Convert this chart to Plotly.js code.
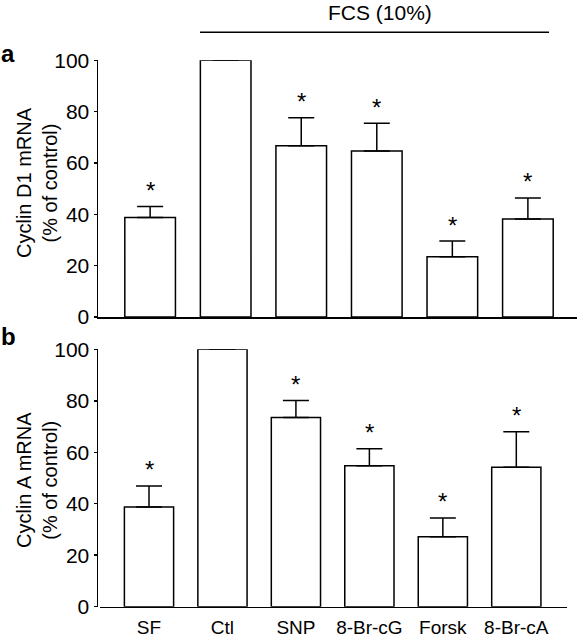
<!DOCTYPE html>
<html>
<head>
<meta charset="utf-8">
<script src="https://cdn.plot.ly/plotly-3.0.1.min.js"></script>
<style>html,body{margin:0;padding:0;background:#fff;}#chart{width:579px;height:640px;}</style>
</head>
<body>
<div id="chart"></div>
<script>
var categories = ['SF', 'Ctl', 'SNP', '8-Br-cG', 'Forsk', '8-Br-cA'];
var cyclinD1 = [38.8, 100, 66.7, 64.7, 23.5, 38.2];
var cyclinD1Err = [4.2, null, 10.9, 10.8, 6.1, 8.2];
var cyclinA = [38.7, 100, 73.5, 54.8, 27.2, 54.2];
var cyclinAErr = [8.2, null, 6.6, 6.6, 7.3, 13.8];
var significant = [true, false, true, true, true, true];
var yTicks = [0, 20, 40, 60, 80, 100];

var FONT = 'Liberation Sans, Arial, sans-serif';
var W = 579, H = 640;

function barTrace(vals, errs, xa, ya) {
  return {
    type: 'bar', x: categories, y: vals, xaxis: xa, yaxis: ya,
    marker: {color: '#ffffff', line: {color: '#000000', width: 1.5}},
    error_y: {type: 'data', symmetric: false, array: errs,
              arrayminus: errs.map(function(){return 0;}),
              color: '#000000', thickness: 1.5, width: 13},
    hoverinfo: 'none'
  };
}

var data = [
  barTrace(cyclinD1, cyclinD1Err, 'x', 'y'),
  barTrace(cyclinA, cyclinAErr, 'x2', 'y2')
];

var annotations = [];
function addStars(vals, errs, xref, yref) {
  for (var i = 0; i < categories.length; i++) {
    if (!significant[i]) continue;
    annotations.push({
      x: categories[i], y: vals[i] + (errs[i] || 0), xref: xref, yref: yref,
      text: '*', showarrow: false, yanchor: 'middle', yshift: 16,
      font: {family: FONT, size: 24, color: '#000'}
    });
  }
}
addStars(cyclinD1, cyclinD1Err, 'x', 'y');
addStars(cyclinA, cyclinAErr, 'x2', 'y2');

annotations.push({text: 'FCS (10%)', xref: 'x', yref: 'paper', x: 3.04, y: (H - 13) / H,
  showarrow: false, yanchor: 'middle', xanchor: 'center', font: {family: FONT, size: 21, color: '#000'}});
annotations.push({text: '<b>a</b>', xref: 'paper', yref: 'paper', x: 8 / W, y: (H - 54) / H,
  showarrow: false, xanchor: 'center', yanchor: 'middle', font: {family: FONT, size: 24, color: '#000'}});
annotations.push({text: '<b>b</b>', xref: 'paper', yref: 'paper', x: 8 / W, y: (H - 336) / H,
  showarrow: false, xanchor: 'center', yanchor: 'middle', font: {family: FONT, size: 24, color: '#000'}});
annotations.push({text: 'Cyclin D1 mRNA<br>(% of control)', xref: 'paper', yref: 'paper',
  x: 37 / W, y: (H - 183) / H, textangle: -90, showarrow: false, xanchor: 'center', yanchor: 'middle',
  font: {family: FONT, size: 20, color: '#000'}});
annotations.push({text: 'Cyclin A mRNA<br>(% of control)', xref: 'paper', yref: 'paper',
  x: 37 / W, y: (H - 480) / H, textangle: -90, showarrow: false, xanchor: 'center', yanchor: 'middle',
  font: {family: FONT, size: 20, color: '#000'}});

function yAxis(dom) {
  return {
    domain: dom, range: [0, 100], tickvals: yTicks, ticktext: yTicks.map(String),
    showgrid: false, zeroline: false, showline: true, linecolor: '#000', linewidth: 1.5,
    ticks: 'outside', ticklen: 3, tickwidth: 1.5, tickcolor: '#000',
    tickfont: {family: FONT, size: 21, color: '#000'},
    fixedrange: true
  };
}

var layout = {
  width: W, height: H,
  margin: {l: 0, r: 0, t: 0, b: 0},
  paper_bgcolor: '#fff', plot_bgcolor: '#fff',
  showlegend: false, bargap: 0.33,
  xaxis: {domain: [98 / W, 577 / W], anchor: 'y', type: 'category', range: [-0.69, 5.65],
    showline: true, linecolor: '#000', linewidth: 1.5, showticklabels: false, ticks: '',
    showgrid: false, zeroline: false, fixedrange: true},
  yaxis: yAxis([(H - 317) / H, (H - 60.3) / H]),
  xaxis2: {domain: [100 / W, 567 / W], anchor: 'y2', type: 'category', range: [-0.667, 5.69],
    showline: true, linecolor: '#000', linewidth: 1.5, ticks: '', ticklabelstandoff: 3,
    tickfont: {family: FONT, size: 19, color: '#000'},
    showgrid: false, zeroline: false, fixedrange: true},
  yaxis2: yAxis([(H - 606.7) / H, (H - 349.3) / H]),
  shapes: [{type: 'line', xref: 'x', yref: 'paper', x0: 0.66, x1: 5.28,
    y0: (H - 32.3) / H, y1: (H - 32.3) / H, line: {color: '#000', width: 1.5}}],
  annotations: annotations
};

Plotly.newPlot('chart', data, layout, {displayModeBar: false, staticPlot: true});
</script>
</body>
</html>
